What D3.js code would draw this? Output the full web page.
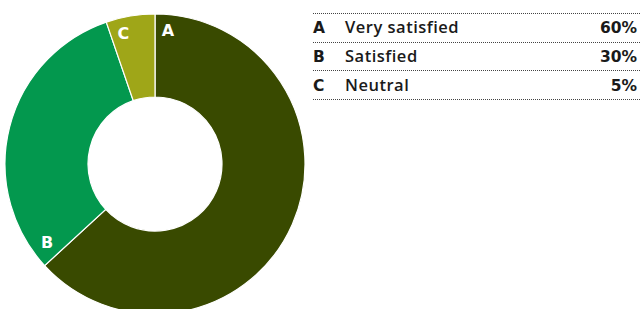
<!DOCTYPE html>
<html><head><meta charset="utf-8">
<script src="https://cdn.jsdelivr.net/npm/d3@7/dist/d3.min.js"></script>
<style>body{margin:0;background:#fff}</style>
</head><body>
<script>
const codes = ["A","B","C"];
const categories = ["Very satisfied","Satisfied","Neutral"];
const values = [60,30,5];
const colors = ["#394a00","#03984e","#9fa618"];

(function(){
const W=643,H=309;
const svg=d3.select("body").append("svg").attr("width",W).attr("height",H);
const cx=155, cy=164, R=150, r=67;
const data=codes.map((c,i)=>({code:c,label:categories[i],value:values[i],color:colors[i]}));
const pie=d3.pie().sort(null).value(d=>d.value);
const arc=d3.arc().innerRadius(r).outerRadius(R);
const g=svg.append("g").attr("transform",`translate(${cx},${cy})`);
const arcs=pie(data);
g.selectAll("path").data(arcs).join("path")
 .attr("d",arc).attr("fill",d=>d.data.color)
 .attr("stroke","#fff").attr("stroke-width",1.2);
const offs={A:0.096,B:0.12,C:0.094};
function lab(d){
  const a=d.startAngle+offs[d.data.code]; const rr=d.data.code==="B"?133:135;
  return [Math.sin(a)*rr,-Math.cos(a)*rr];
}
g.selectAll("text.lab").data(arcs).join("text").attr("class","lab")
 .attr("x",d=>lab(d)[0]).attr("y",d=>lab(d)[1]+6)
 .attr("text-anchor","middle")
 .attr("fill","#fff").attr("font-family","DejaVu Sans, sans-serif")
 .attr("font-weight","bold").attr("font-size",16).text(d=>d.data.code);

const lx0=313,lx1=640, ly0=13, pitch=28.7;
const y=d3.scaleLinear().domain([0,1]).range([ly0,ly0+pitch]);
const leg=svg.append("g");
for(let i=0;i<=data.length;i++){
  leg.append("line").attr("x1",lx0).attr("x2",lx1).attr("y1",Math.round(y(i))+0.5).attr("y2",Math.round(y(i))+0.5)
   .attr("stroke","#444").attr("stroke-width",1).attr("stroke-dasharray","1,1");
}
data.forEach((d,i)=>{
  const by=y(i)+20.3;
  leg.append("text").attr("x",lx0).attr("y",by).attr("font-family","DejaVu Sans, sans-serif")
   .attr("font-weight","bold").attr("font-size",15.5).attr("fill","#1a1a1a").text(d.code);
  leg.append("text").attr("x",345).attr("y",by).attr("font-family","Open Sans, sans-serif")
   .attr("font-weight",600).attr("font-size",16.5).attr("letter-spacing","0.5px").attr("fill","#1a1a1a").text(d.label);
  leg.append("text").attr("x",637).attr("y",by).attr("text-anchor","end").attr("font-family","DejaVu Sans, sans-serif")
   .attr("font-weight","bold").attr("font-size",15.5).attr("fill","#1a1a1a").text(d.value+"%");
});
})();
</script>
</body></html>
